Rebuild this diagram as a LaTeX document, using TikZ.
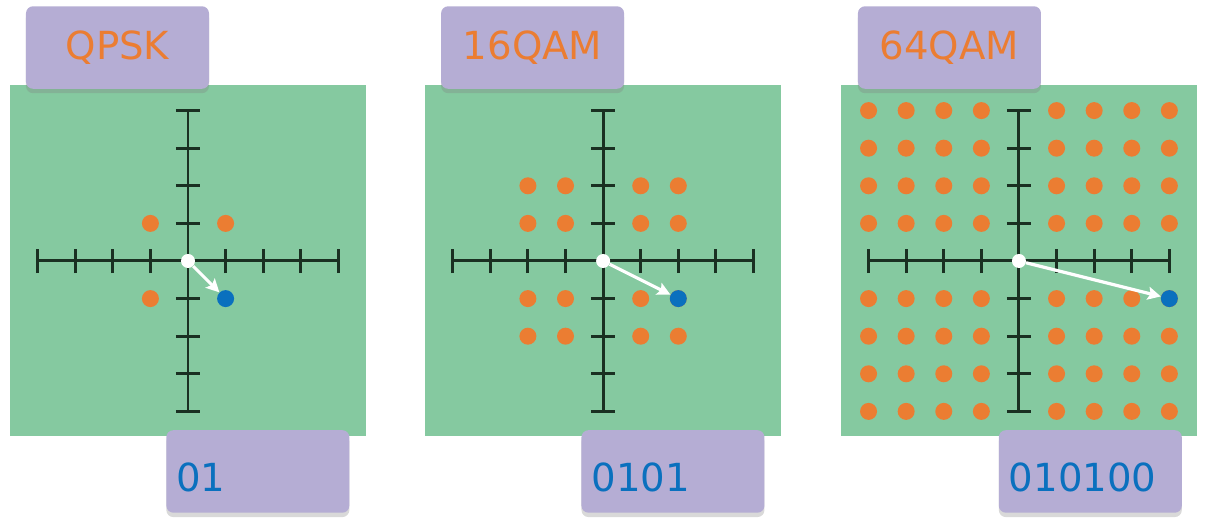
\documentclass[tikz,border=0pt]{standalone}
\usepackage{fontspec}
\setmainfont{DejaVu Sans}
\usetikzlibrary{shadows,arrows.meta}

\definecolor{panelgreen}{RGB}{133,201,160}
\definecolor{tagpurple}{RGB}{181,173,212}
\definecolor{dotorange}{RGB}{235,125,50}
\definecolor{dotblue}{RGB}{10,112,190}
\definecolor{axisdark}{RGB}{26,48,34}

\begin{document}
\begin{tikzpicture}[
        x=0.752cm, y=0.752cm,
        >={Stealth[length=0.26cm, width=0.26cm, inset=0.05cm]},
        panel/.style={
            rectangle,
            fill=panelgreen,
            minimum width=7.12cm,
            minimum height=7.02cm,
            inner sep=0pt
        },
        tag/.style={
            rectangle,
            fill=tagpurple,
            rounded corners=4pt,
            minimum width=3.66cm,
            minimum height=1.65cm,
            inner sep=0pt,
            font=\fontsize{22}{26}\selectfont,
            drop shadow={shadow xshift=0pt, shadow yshift=-2.5pt, opacity=0.3}
        },
        scheme/.style={tag, text=dotorange},
        bits/.style={tag, text=dotblue, text width=3.26cm, align=left,
            text height=0.82cm, text depth=0pt},
        axis/.style={draw=axisdark, line width=1.7pt},
        sym/.style={circle, fill=dotorange, inner sep=0pt, minimum size=0.34cm},
        hit/.style={sym, fill=dotblue},
        origin/.style={circle, fill=white, inner sep=0pt, minimum size=0.28cm},
        vec/.style={->, draw=white, line width=1.8pt}
    ]

    \useasboundingbox (-5,-7.101) rectangle (27.287,6.941);

    % QPSK
    \begin{scope}
        \node[panel] (g1) at (0,0) {};
        \node[scheme, anchor=south west] (n1) at ([xshift=0.32cm, yshift=-0.08cm]g1.north west) {QPSK};
        \node[bits, anchor=north west] (b1) at ([xshift=-0.44cm, yshift=0.14cm]g1.south) {01};
        \draw[axis] (-4,0) -- (4,0);
        \draw[axis] (0,-4) -- (0,4);
        \foreach \k in {-4,-3,-2,-1,1,2,3,4} {
            \draw[axis] (\k,-0.32) -- (\k,0.32);
            \draw[axis] (-0.32,\k) -- (0.32,\k);
        }
        \foreach \x/\y [count=\i] in {-1/1, 1/1, -1/-1}
            \node[sym] (q\i) at (\x,\y) {};
        \node[hit] (s1) at (1,-1) {};
        \node[origin] (o1) at (0,0) {};
        \draw[vec] (o1) -- (s1);
    \end{scope}

    % 16QAM
    \begin{scope}[shift={(11.04,0)}]
        \node[panel] (g2) at (0,0) {};
        \node[scheme, anchor=south west] (n2) at ([xshift=0.32cm, yshift=-0.08cm]g2.north west) {16QAM};
        \node[bits, anchor=north west] (b2) at ([xshift=-0.44cm, yshift=0.14cm]g2.south) {0101};
        \draw[axis] (-4,0) -- (4,0);
        \draw[axis] (0,-4) -- (0,4);
        \foreach \k in {-4,-3,-2,-1,1,2,3,4} {
            \draw[axis] (\k,-0.32) -- (\k,0.32);
            \draw[axis] (-0.32,\k) -- (0.32,\k);
        }
        \foreach \x in {-2,-1,1,2}
            \foreach \y in {-2,-1,1,2}
                \node[sym] (m\x\y) at (\x,\y) {};
        \node[hit] (s2) at (2,-1) {};
        \node[origin] (o2) at (0,0) {};
        \draw[vec] (o2) -- (s2);
    \end{scope}

    % 64QAM
    \begin{scope}[shift={(22.10,0)}]
        \node[panel] (g3) at (0,0) {};
        \node[scheme, anchor=south west] (n3) at ([xshift=0.34cm, yshift=-0.08cm]g3.north west) {64QAM};
        \node[bits, anchor=north west] (b3) at ([xshift=-0.41cm, yshift=0.14cm]g3.south) {010100};
        \foreach \x in {-4,-3,-2,-1,1,2,3,4}
            \foreach \y in {-4,-3,-2,-1,1,2,3,4}
                \node[sym] (h\x\y) at (\x,\y) {};
        \draw[axis] (-4,0) -- (4,0);
        \draw[axis] (0,-4) -- (0,4);
        \foreach \k in {-4,-3,-2,-1,1,2,3,4} {
            \draw[axis] (\k,-0.32) -- (\k,0.32);
            \draw[axis] (-0.32,\k) -- (0.32,\k);
        }
        \node[hit] (s3) at (4,-1) {};
        \node[origin] (o3) at (0,0) {};
        \draw[vec] (o3) -- (s3);
    \end{scope}

\end{tikzpicture}
\end{document}
